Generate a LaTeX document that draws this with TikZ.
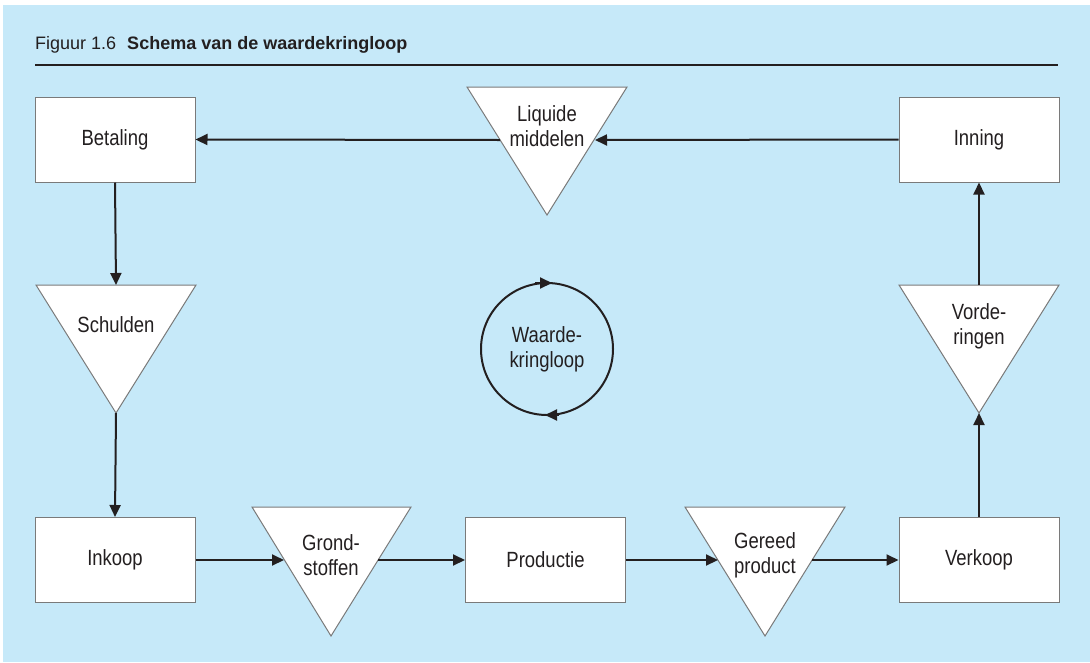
\documentclass[tikz,border=0pt]{standalone}
\usepackage{fontspec}
\setmainfont{Liberation Sans}
\newfontfamily\condfont[FakeStretch=0.84]{Liberation Sans}
\usetikzlibrary{arrows.meta,calc}
\definecolor{bgblue}{HTML}{C6E9F9}
\definecolor{boxgray}{HTML}{7A7A7A}
\definecolor{ink}{HTML}{231F20}
\begin{document}
\begin{tikzpicture}[x=1pt,y=-1pt,
  box/.style={draw=boxgray,line width=1pt,fill=white,minimum width=160pt,minimum height=85pt,
    font=\condfont\fontsize{22}{25}\selectfont,text=ink,inner sep=0pt},
  tri/.style={draw=boxgray,line width=1pt,fill=white},
  lbl/.style={font=\condfont\fontsize{22}{25}\selectfont,text=ink,align=center,inner sep=0pt},
  flow/.style={draw=ink,line width=2pt,-{Triangle[length=12pt,width=11pt]}}]
\useasboundingbox (0,0) rectangle (1090,662);
\fill[white] (0,0) rectangle (1090,662);
\fill[bgblue] (3,5) rectangle (1090,662);
% title
\node[anchor=base west,font=\fontsize{18}{22}\selectfont,text=ink,inner sep=0pt] (title) at (35,49.5)
  {Figuur 1.6\hspace{11pt}\textbf{Schema van de waardekringloop}};
\draw[ink,line width=2pt] (35,65) -- (1058,65);
% boxes
\node[box] (bet) at (115,139.5) {Betaling};
\node[box] (inn) at (979,139.5) {Inning};
\node[box] (ink) at (115,560) {Inkoop};
\node[box] (pro) at (545.5,560) {Productie};
\node[box] (ver) at (979,560) {Verkoop};
% triangles
\coordinate (liqL) at (467,87); \coordinate (liqR) at (627,87); \coordinate (liqB) at (547,215);
\draw[tri] (liqL) -- (liqR) -- (liqB) -- cycle;
\node[lbl] (liq) at (547,126) {Liquide\\middelen};
\coordinate (liqW) at (500,140); \coordinate (liqE) at (595,140);
\coordinate (schL) at (36,285); \coordinate (schR) at (196,285); \coordinate (schB) at (116,413);
\draw[tri] (schL) -- (schR) -- (schB) -- cycle;
\node[lbl] (sch) at (116,325) {Schulden};
\coordinate (schT) at (116,285);
\coordinate (vorL) at (899,285); \coordinate (vorR) at (1059,285); \coordinate (vorB) at (979,413);
\draw[tri] (vorL) -- (vorR) -- (vorB) -- cycle;
\node[lbl] (vor) at (979,326) {Vorde-\\ringen};
\coordinate (vorT) at (979,285);
\coordinate (groL) at (252,507); \coordinate (groR) at (411,507); \coordinate (groB) at (331,636);
\draw[tri] (groL) -- (groR) -- (groB) -- cycle;
\node[lbl] (gro) at (331,555) {Grond-\\stoffen};
\coordinate (groW) at (284,560); \coordinate (groE) at (378,560);
\coordinate (gerL) at (685,507); \coordinate (gerR) at (845,507); \coordinate (gerB) at (765,636);
\draw[tri] (gerL) -- (gerR) -- (gerB) -- cycle;
\node[lbl] (ger) at (765,555) {Gereed\\product};
\coordinate (gerW) at (718,560); \coordinate (gerE) at (812,560);
% circle
\node[circle,draw=ink,line width=2pt,minimum size=132pt,inner sep=0pt,
  font=\condfont\fontsize{22}{25}\selectfont,text=ink,align=center] (cir) at (547,349) {Waarde-\\kringloop};
\coordinate (cirTa) at ($(cir.center)+(-12,-66)$);
\coordinate (cirTb) at ($(cir.center)+(5,-66)$);
\coordinate (cirBa) at ($(cir.center)+(12,66)$);
\coordinate (cirBb) at ($(cir.center)+(-2,66)$);
\draw[flow] (cirTa) -- (cirTb);
\draw[flow] (cirBa) -- (cirBb);
% flows
\draw[flow] (inn.west) -- (liqE);
\draw[flow] (liqW) -- (bet.east);
\draw[flow] (bet.south) -- (schT);
\draw[flow] (schB) -- (ink.north);
\draw[flow] (ink.east) -- (groW);
\draw[flow] (groE) -- (pro.west);
\draw[flow] (pro.east) -- (gerW);
\draw[flow] (gerE) -- (ver.west);
\draw[flow] (ver.north) -- (vorB);
\draw[flow] (vorT) -- (inn.south);
\end{tikzpicture}
\end{document}
